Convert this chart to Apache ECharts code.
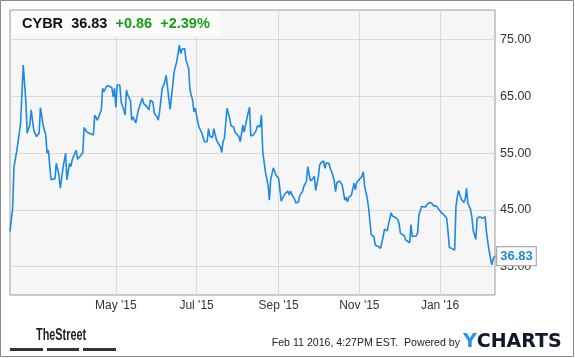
<!DOCTYPE html>
<html>
<head>
<meta charset="utf-8">
<script src="https://cdn.jsdelivr.net/npm/echarts@6/dist/echarts.min.js"></script>
<style>
  html, body { margin: 0; padding: 0; background: #ffffff; }
  #chart { width: 575px; height: 358px; }
</style>
</head>
<body>
<div id="chart"></div>
<script>
// ---- data ----
const dates = [
  '2015-02-10','2015-02-12','2015-02-13','2015-02-15','2015-02-18','2015-02-20','2015-02-22','2015-02-23','2015-02-25','2015-02-26','2015-02-28',
  '2015-03-02','2015-03-04','2015-03-05','2015-03-07','2015-03-09','2015-03-10','2015-03-11','2015-03-13','2015-03-16','2015-03-17','2015-03-19','2015-03-20','2015-03-22','2015-03-24','2015-03-25','2015-03-27','2015-03-28','2015-03-29',
  '2015-04-01','2015-04-02','2015-04-06','2015-04-07','2015-04-09','2015-04-11','2015-04-14','2015-04-15','2015-04-17','2015-04-20','2015-04-21','2015-04-22','2015-04-24','2015-04-26','2015-04-28','2015-04-29','2015-04-30',
  '2015-05-01','2015-05-02','2015-05-04','2015-05-05','2015-05-07','2015-05-08','2015-05-09','2015-05-10','2015-05-12','2015-05-13','2015-05-14','2015-05-15','2015-05-16','2015-05-18','2015-05-19','2015-05-20','2015-05-21','2015-05-22','2015-05-24','2015-05-26','2015-05-27','2015-05-29','2015-05-30',
  '2015-06-01','2015-06-02','2015-06-03','2015-06-04','2015-06-05','2015-06-07','2015-06-08','2015-06-10','2015-06-11','2015-06-13','2015-06-14','2015-06-16','2015-06-17','2015-06-18','2015-06-19','2015-06-20','2015-06-22','2015-06-23','2015-06-25','2015-06-26','2015-06-28','2015-06-29','2015-06-30',
  '2015-07-02','2015-07-03','2015-07-05','2015-07-06','2015-07-07','2015-07-09','2015-07-10','2015-07-11','2015-07-13','2015-07-14','2015-07-16','2015-07-17','2015-07-19','2015-07-20','2015-07-21','2015-07-22','2015-07-24','2015-07-26','2015-07-27','2015-07-29','2015-07-30','2015-07-31',
  '2015-08-02','2015-08-03','2015-08-05','2015-08-06','2015-08-08','2015-08-10','2015-08-11','2015-08-13','2015-08-15','2015-08-16','2015-08-18','2015-08-19','2015-08-20','2015-08-22','2015-08-24','2015-08-25','2015-08-26','2015-08-28','2015-08-30',
  '2015-09-01','2015-09-02','2015-09-03','2015-09-04','2015-09-06','2015-09-08','2015-09-09','2015-09-10','2015-09-11','2015-09-13','2015-09-14','2015-09-16','2015-09-17','2015-09-19','2015-09-20','2015-09-22','2015-09-23','2015-09-24','2015-09-25','2015-09-27','2015-09-28','2015-09-29',
  '2015-10-01','2015-10-02','2015-10-03','2015-10-05','2015-10-06','2015-10-07','2015-10-09','2015-10-10','2015-10-12','2015-10-13','2015-10-14','2015-10-15','2015-10-17','2015-10-18','2015-10-19','2015-10-21','2015-10-22','2015-10-23','2015-10-24','2015-10-26','2015-10-27','2015-10-28','2015-10-29','2015-10-30',
  '2015-11-01','2015-11-03','2015-11-04','2015-11-05','2015-11-07','2015-11-08','2015-11-10','2015-11-12','2015-11-13','2015-11-15','2015-11-16','2015-11-17','2015-11-19','2015-11-20','2015-11-22','2015-11-25','2015-11-26','2015-11-28','2015-11-30',
  '2015-12-01','2015-12-02','2015-12-03','2015-12-05','2015-12-06','2015-12-07','2015-12-09','2015-12-10','2015-12-11','2015-12-12','2015-12-14','2015-12-15','2015-12-16','2015-12-17','2015-12-18','2015-12-19','2015-12-21','2015-12-22','2015-12-24','2015-12-26','2015-12-27','2015-12-29','2015-12-31',
  '2016-01-02','2016-01-04','2016-01-06','2016-01-07','2016-01-08','2016-01-09','2016-01-12','2016-01-13','2016-01-14','2016-01-15','2016-01-16','2016-01-17','2016-01-19','2016-01-20','2016-01-21','2016-01-22','2016-01-24','2016-01-25','2016-01-26','2016-01-28','2016-01-29','2016-01-31',
  '2016-02-01','2016-02-02','2016-02-03','2016-02-04','2016-02-05','2016-02-06','2016-02-07','2016-02-09','2016-02-10','2016-02-11'
];
const prices = [
  41.2,45.3,52.6,55.2,60.2,70.5,64.0,58.5,60.0,62.6,59.0,
  57.9,58.5,63.0,59.9,58.2,55.0,55.5,50.3,50.5,53.2,51.1,48.8,52.3,55.0,50.3,53.2,52.6,53.8,
  55.5,53.9,55.0,59.5,58.7,58.5,58.2,61.7,60.8,62.6,66.4,65.8,66.8,66.8,66.5,64.9,66.4,
  63.1,67.0,67.0,64.0,62.6,61.7,66.1,65.2,64.3,60.8,61.4,61.4,60.3,62.6,63.3,63.3,64.7,63.7,63.3,62.6,64.3,64.0,62.0,
  61.4,60.8,62.2,61.9,66.4,67.5,68.7,64.6,62.7,67.0,69.3,71.1,71.4,74.0,72.5,73.3,73.4,71.4,69.9,66.1,64.3,62.3,62.9,
  60.4,59.5,58.5,58.2,57.0,57.0,59.3,58.0,57.7,59.3,57.3,56.9,56.1,55.1,57.0,57.6,62.9,61.1,59.8,59.6,58.7,59.0,
  57.9,57.0,59.9,58.7,61.1,63.1,58.0,58.2,59.0,59.8,59.6,61.7,55.2,51.7,49.4,46.7,50.3,52.4,51.1,
  50.5,50.6,46.5,47.1,47.9,48.3,47.6,48.3,47.7,46.9,46.2,46.4,47.5,48.2,49.1,50.0,52.6,52.7,50.1,50.5,50.9,48.4,
  50.8,52.9,53.3,53.6,52.3,53.3,53.2,52.3,51.1,50.1,48.2,49.8,50.1,50.4,49.4,46.7,47.2,46.4,47.2,47.6,47.3,49.7,48.5,49.8,
  50.4,50.9,51.7,49.1,47.0,45.3,40.6,40.3,38.8,38.6,38.6,38.2,40.3,41.6,41.3,44.5,43.9,43.7,43.3,
  42.6,40.9,41.2,40.4,39.7,39.8,39.2,42.4,40.3,40.4,40.4,40.9,44.1,44.4,45.6,45.6,45.5,45.9,46.3,46.1,45.7,45.7,45.1,
  44.5,44.1,43.5,41.2,38.4,38.1,37.9,45.6,47.3,48.4,47.6,46.9,46.3,46.9,48.8,46.1,45.1,43.8,41.4,39.8,43.5,43.8,
  44.1,43.5,43.3,43.8,41.2,39.4,37.9,35.3,36.2,36.83
];
const yTickValues = [35, 45, 55, 65, 75];
const xTickDates = ['2015-05-01', '2015-07-01', '2015-09-01', '2015-11-01', '2016-01-01'];
const xTickLabels = ["May '15", "Jul '15", "Sep '15", "Nov '15", "Jan '16"];
const tickerSymbol = 'CYBR';
const lastPriceText = '36.83';
const changeText = '+0.86';
const changePctText = '+2.39%';
const stampText = 'Feb 11 2016, 4:27PM EST.  Powered by';
const startDate = '2015-02-10';
const endDate = '2016-02-11';

// ---- chart ----
const parse = d => echarts.number.parseDate(d).getTime();
const xTickTimes = xTickDates.map(parse);
const seriesData = dates.map((d, i) => [parse(d), prices[i]]);
const lastIdx = dates.length - 1;

const chart = echarts.init(document.getElementById('chart'), null, { renderer: 'canvas' });
const LINE = '#1e88e5';
const FONT = '"Liberation Sans", Arial, sans-serif';

chart.setOption({
  animation: false,
  backgroundColor: '#ffffff',
  grid: {
    left: 10, right: 80, top: 10, bottom: 63,
    show: true, backgroundColor: '#f6f6f6', borderColor: '#9a9a9a', borderWidth: 1
  },
  xAxis: {
    type: 'value',
    min: parse(startDate),
    max: parse(endDate) + 12 * 3600 * 1000,
    axisLine: { show: false },
    axisTick: { show: false, customValues: xTickTimes },
    splitLine: { show: true, lineStyle: { color: '#d9d9d9', width: 1 } },
    axisLabel: {
      customValues: xTickTimes,
      margin: 5,
      color: '#333',
      fontSize: 12,
      fontFamily: FONT,
      formatter: function (val) {
        const i = xTickTimes.indexOf(val);
        return i >= 0 ? xTickLabels[i] : '';
      }
    }
  },
  yAxis: {
    type: 'value',
    position: 'right',
    min: 30,
    max: 80.2,
    axisLine: { show: false },
    axisTick: { show: false, customValues: yTickValues },
    splitLine: { show: true, lineStyle: { color: '#d9d9d9', width: 1 } },
    axisLabel: {
      customValues: yTickValues,
      margin: 5,
      color: '#333',
      fontSize: 12.5,
      fontFamily: FONT,
      formatter: v => Number(v).toFixed(2)
    }
  },
  series: [{
    type: 'line',
    data: seriesData,
    showSymbol: false,
    lineStyle: { color: LINE, width: 1.6 },
    itemStyle: { color: LINE },
    markPoint: {
      silent: true,
      symbol: 'path://M0,6 L7,0 L7,12 Z',
      symbolSize: [7, 12],
      symbolKeepAspect: false,
      symbolOffset: [4, 0],
      itemStyle: { color: '#ffffff', borderColor: '#9a9a9a', borderWidth: 1 },
      label: {
        show: true,
        position: 'right',
        distance: -5,
        formatter: lastPriceText,
        color: LINE,
        fontWeight: 'bold',
        fontSize: 13,
        fontFamily: FONT,
        backgroundColor: '#ffffff',
        borderColor: '#9a9a9a',
        borderWidth: 1,
        padding: [3, 3, 2, 3]
      },
      data: [{ coord: seriesData[lastIdx] }]
    }
  }],
  graphic: [
    { type: 'rect', silent: true, z: 1,
      shape: { x: 0.5, y: 0.5, width: 573, height: 356 },
      style: { fill: 'none', stroke: '#8a8a8a', lineWidth: 1 } },
    { type: 'rect', silent: true, z: 5,
      shape: { x: 11, y: 11, width: 209, height: 26 },
      style: { fill: '#fbfbfb' } },
    { type: 'text', silent: true, z: 6, x: 22, y: 24,
      style: {
        text: '{a|' + tickerSymbol + '}  {a|' + lastPriceText + '}  {g|' + changeText + '}  {g|' + changePctText + '}',
        verticalAlign: 'middle',
        font: 'bold 14.5px ' + FONT,
        rich: {
          a: { fill: '#111111', font: 'bold 14.5px ' + FONT },
          g: { fill: '#16a016', font: 'bold 14.5px ' + FONT }
        }
      } },
    { type: 'text', silent: true, z: 6, x: 36, y: 336, scaleX: 0.68,
      style: { text: 'TheStreet', verticalAlign: 'middle', fill: '#222', font: 'bold 16px ' + FONT } },
    { type: 'rect', silent: true, z: 6, shape: { x: 10, y: 348, width: 33, height: 3 }, style: { fill: '#333' } },
    { type: 'rect', silent: true, z: 6, shape: { x: 47, y: 348, width: 32, height: 3 }, style: { fill: '#333' } },
    { type: 'rect', silent: true, z: 6, shape: { x: 83, y: 348, width: 33, height: 3 }, style: { fill: '#333' } },
    { type: 'text', silent: true, z: 6, x: 460, y: 343,
      style: { text: stampText, align: 'right', verticalAlign: 'middle', fill: '#222', font: '10.6px ' + FONT } },
    { type: 'text', silent: true, z: 6, x: 463, y: 342,
      style: {
        text: '{y|Y}{c|CHARTS}',
        verticalAlign: 'middle',
        font: 'bold 19px "DejaVu Sans", sans-serif',
        rich: {
          y: { fill: '#2196f3', font: 'bold 19px "DejaVu Sans", sans-serif' },
          c: { fill: '#111827', font: 'bold 19px "DejaVu Sans", sans-serif' }
        }
      } }
  ]
});
</script>
</body>
</html>
